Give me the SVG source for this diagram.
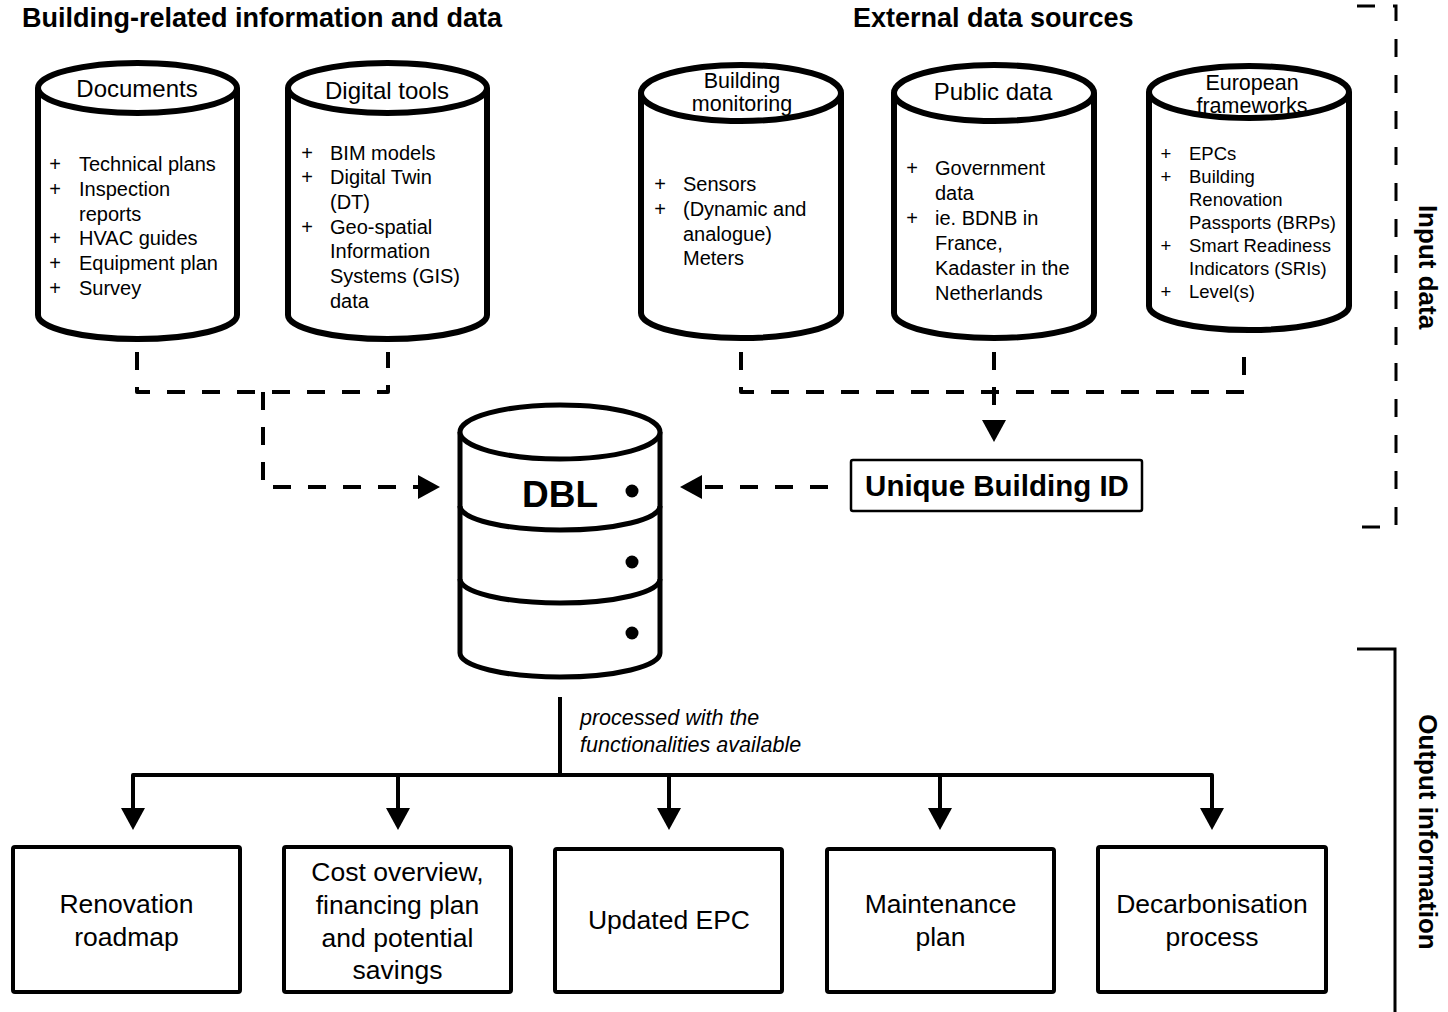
<svg xmlns="http://www.w3.org/2000/svg" width="1448" height="1012" viewBox="0 0 1448 1012">
<defs>
<style>
text{font-family:"Liberation Sans",Arial,Helvetica,sans-serif;fill:#000}
.hdr{font-size:27px;font-weight:bold}
.ttl{font-size:24px;text-anchor:middle}
.ttl2{font-size:21.5px;text-anchor:middle}
.li{font-size:20px}
.li2{font-size:18.5px}
.pl{text-anchor:middle}
.cyl{fill:#fff;stroke:#000;stroke-width:6;stroke-linejoin:round}
.db{fill:#fff;stroke:#000;stroke-width:5;stroke-linejoin:round}
.sep{fill:none;stroke:#000;stroke-width:5}
.box{fill:#fff;stroke:#000;stroke-width:4;stroke-linejoin:round}
.bt{font-size:26.5px;text-anchor:middle}
.dash{fill:none;stroke:#000;stroke-width:4;stroke-dasharray:18 17;stroke-linejoin:round}
.solid{fill:none;stroke:#000;stroke-width:4;stroke-linejoin:round}
.brd{fill:none;stroke:#000;stroke-width:3;stroke-dasharray:18 18}
.brs{fill:none;stroke:#000;stroke-width:3}
.side{font-size:26px;font-weight:bold;text-anchor:middle}
</style>
<marker id="ah" viewBox="0 0 10 10" refX="0" refY="5" markerUnits="userSpaceOnUse" markerWidth="22" markerHeight="24" orient="auto" preserveAspectRatio="none">
<path d="M0,0 L10,5 L0,10 z" fill="#000"/>
</marker>
</defs>
<rect width="1448" height="1012" fill="#fff"/>

<g id="headers">
<text class="hdr" x="22" y="27">Building-related information and data</text>
<text class="hdr" x="853" y="27">External data sources</text>
</g>

<g id="documents">
<path class="cyl" d="M38,88 V315 A99.5,24 0 0 0 237,315 V88"/>
<ellipse class="cyl" cx="137.5" cy="88" rx="99.5" ry="25"/>
<text class="ttl" x="137" y="97">Documents</text>
<text class="li pl"><tspan x="55" y="171">+</tspan><tspan x="55" y="196">+</tspan><tspan x="55" y="245">+</tspan><tspan x="55" y="270">+</tspan><tspan x="55" y="295">+</tspan></text>
<text class="li"><tspan x="79" y="171">Technical plans</tspan><tspan x="79" y="196">Inspection</tspan><tspan x="79" y="220.5">reports</tspan><tspan x="79" y="245">HVAC guides</tspan><tspan x="79" y="270">Equipment plan</tspan><tspan x="79" y="295">Survey</tspan></text>
</g>

<g id="digital-tools">
<path class="cyl" d="M288,88 V315 A99.5,24 0 0 0 487,315 V88"/>
<ellipse class="cyl" cx="387.5" cy="88" rx="99.5" ry="25"/>
<text class="ttl" x="387" y="99">Digital tools</text>
<text class="li pl"><tspan x="307" y="159.5">+</tspan><tspan x="307" y="184.2">+</tspan><tspan x="307" y="233.6">+</tspan></text>
<text class="li"><tspan x="330" y="159.5">BIM models</tspan><tspan x="330" y="184.2">Digital Twin</tspan><tspan x="330" y="208.9">(DT)</tspan><tspan x="330" y="233.6">Geo-spatial</tspan><tspan x="330" y="258.3">Information</tspan><tspan x="330" y="283">Systems (GIS)</tspan><tspan x="330" y="307.7">data</tspan></text>
</g>

<g id="building-monitoring">
<path class="cyl" d="M641,93 V313 A100,25 0 0 0 841,313 V93"/>
<ellipse class="cyl" cx="741" cy="93" rx="100" ry="28"/>
<text class="ttl2"><tspan x="742" y="88">Building</tspan><tspan x="742" y="111">monitoring</tspan></text>
<text class="li pl"><tspan x="660" y="191">+</tspan><tspan x="660" y="216">+</tspan></text>
<text class="li"><tspan x="683" y="191">Sensors</tspan><tspan x="683" y="216">(Dynamic and</tspan><tspan x="683" y="240.5">analogue)</tspan><tspan x="683" y="265">Meters</tspan></text>
</g>

<g id="public-data">
<path class="cyl" d="M894,93 V313 A100,25 0 0 0 1094,313 V93"/>
<ellipse class="cyl" cx="994" cy="93" rx="100" ry="28"/>
<text class="ttl" x="993" y="100">Public data</text>
<text class="li pl"><tspan x="912" y="175">+</tspan><tspan x="912" y="225">+</tspan></text>
<text class="li"><tspan x="935" y="175">Government</tspan><tspan x="935" y="200">data</tspan><tspan x="935" y="225">ie. BDNB in</tspan><tspan x="935" y="250">France,</tspan><tspan x="935" y="275">Kadaster in the</tspan><tspan x="935" y="300">Netherlands</tspan></text>
</g>

<g id="european-frameworks">
<path class="cyl" d="M1149,92 V306 A100,24 0 0 0 1349,306 V92"/>
<ellipse class="cyl" cx="1249" cy="92" rx="100" ry="26"/>
<text class="ttl2"><tspan x="1252" y="89.5">European</tspan><tspan x="1252" y="112.5">frameworks</tspan></text>
<text class="li2 pl"><tspan x="1166" y="159.5">+</tspan><tspan x="1166" y="182.5">+</tspan><tspan x="1166" y="251.5">+</tspan><tspan x="1166" y="297.5">+</tspan></text>
<text class="li2"><tspan x="1189" y="159.5">EPCs</tspan><tspan x="1189" y="182.5">Building</tspan><tspan x="1189" y="205.5">Renovation</tspan><tspan x="1189" y="228.5">Passports (BRPs)</tspan><tspan x="1189" y="251.5">Smart Readiness</tspan><tspan x="1189" y="274.5">Indicators (SRIs)</tspan><tspan x="1189" y="297.5">Level(s)</tspan></text>
</g>

<g id="dbl">
<path class="db" d="M460,432 V653 A100,24 0 0 0 660,653 V432"/>
<ellipse class="db" cx="560" cy="432" rx="100" ry="27"/>
<path class="sep" d="M460,506 A100,24 0 0 0 660,506"/>
<path class="sep" d="M460,579 A100,24 0 0 0 660,579"/>
<text x="560" y="507" style="font-size:37px;font-weight:bold;text-anchor:middle">DBL</text>
<circle cx="632" cy="491" r="6.5"/>
<circle cx="632" cy="562" r="6.5"/>
<circle cx="632" cy="633" r="6.5"/>
</g>

<g id="unique-building-id">
<rect class="box" x="851" y="460" width="291" height="51" rx="2" style="stroke-width:2.5"/>
<text x="997" y="496" style="font-size:29.5px;font-weight:bold;text-anchor:middle">Unique Building ID</text>
</g>

<g id="connectors">
<path class="dash" d="M137,352 V392 H388 V352"/>
<path class="dash" d="M263,392 V487 H418" marker-end="url(#ah)"/>
<path class="dash" d="M741,352 V392 H1244 V352"/>
<path class="dash" d="M994,352 V420" marker-end="url(#ah)"/>
<path class="dash" d="M828,487 H702" marker-end="url(#ah)"/>
<path class="solid" d="M560,697 V775"/>
<path class="solid" d="M133,808 V775 H1212 V808" marker-end="url(#ah)"/>
<path class="solid" d="M133,776 V808" marker-end="url(#ah)"/>
<path class="solid" d="M398,775 V808" marker-end="url(#ah)"/>
<path class="solid" d="M669,775 V808" marker-end="url(#ah)"/>
<path class="solid" d="M940,775 V808" marker-end="url(#ah)"/>
<text style="font-size:21.5px;font-style:italic"><tspan x="580" y="725">processed with the</tspan><tspan x="580" y="752">functionalities available</tspan></text>
</g>

<g id="renovation-roadmap">
<rect class="box" x="13" y="847" width="227" height="145" rx="2"/>
<text class="bt"><tspan x="126.5" y="913">Renovation</tspan><tspan x="126.5" y="946">roadmap</tspan></text>
</g>
<g id="cost-overview">
<rect class="box" x="284" y="847" width="227" height="145" rx="2"/>
<text class="bt"><tspan x="397.5" y="881">Cost overview,</tspan><tspan x="397.5" y="914">financing plan</tspan><tspan x="397.5" y="947">and potential</tspan><tspan x="397.5" y="979">savings</tspan></text>
</g>
<g id="updated-epc">
<rect class="box" x="555" y="849" width="227" height="143" rx="2"/>
<text class="bt" x="669" y="929">Updated EPC</text>
</g>
<g id="maintenance-plan">
<rect class="box" x="827" y="849" width="227" height="143" rx="2"/>
<text class="bt"><tspan x="940.5" y="913">Maintenance</tspan><tspan x="940.5" y="946">plan</tspan></text>
</g>
<g id="decarbonisation-process">
<rect class="box" x="1098" y="847" width="228" height="145" rx="2"/>
<text class="bt"><tspan x="1212" y="913">Decarbonisation</tspan><tspan x="1212" y="946">process</tspan></text>
</g>

<g id="input-data">
<path class="brd" d="M1357,6 H1396 V527 H1357"/>
<text class="side" transform="translate(1419,267) rotate(90)">Input data</text>
</g>
<g id="output-information">
<path class="brs" d="M1357,649 H1395 V1012"/>
<text class="side" transform="translate(1419,832) rotate(90)">Output information</text>
</g>
</svg>
